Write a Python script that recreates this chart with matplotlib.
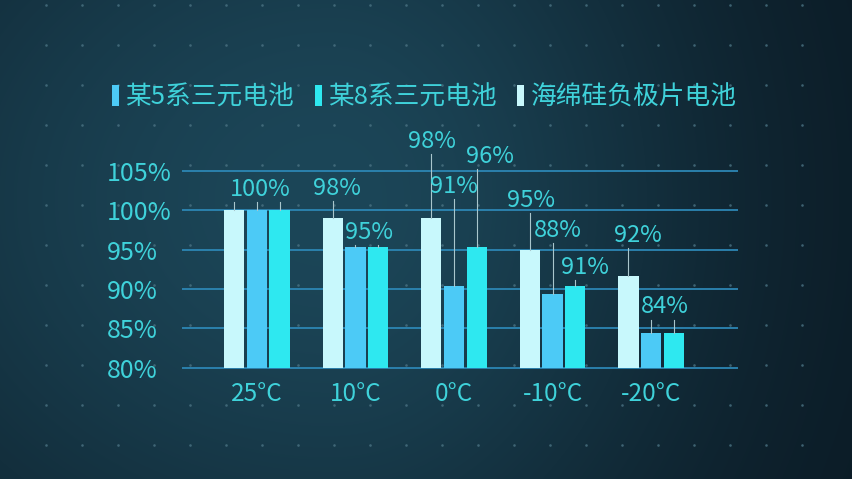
import numpy as np
import matplotlib
matplotlib.use('Agg')
import matplotlib.pyplot as plt
from matplotlib.patches import Rectangle

plt.rcParams['font.family'] = ['Noto Sans CJK SC', 'DejaVu Sans']

# ---------------- data ----------------
categories = ['25°C', '10°C', '0°C', '-10°C', '-20°C']
series_names = ['海绵硅负极片电池', '某5系三元电池', '某8系三元电池']
sponge = [100, 99, 99, 95, 91.6]
ncm5 = [100, 95.3, 90.4, 89.3, 84.4]
ncm8 = [100, 95.3, 95.3, 90.4, 84.4]
legend_order = [1, 2, 0]
yticks = [80, 85, 90, 95, 100, 105]
ytick_labels = ['80%', '85%', '90%', '95%', '100%', '105%']
label_texts = [['100%'], ['98%', '95%'], ['98%', '91%', '96%'],
               ['95%', '88%', '91%'], ['92%', '84%']]

# ---------------- layout / style ----------------
# (x offset in bar slots, text centre y, connected bars)
label_layout = [
    [(0.13, 102.7, (0, 1, 2))],
    [(-0.84, 102.8, (0,)), (0.61, 97.15, (1, 2))],
    [(-0.97, 108.8, (0,)), (0.0, 103.0, (1,)), (1.57, 106.8, (2,))],
    [(-0.95, 101.2, (0,)), (0.24, 97.4, (1,)), (1.45, 92.75, (2,))],
    [(-0.59, 96.8, (0,)), (0.61, 87.7, (1, 2))],
]
colors = ['#c8f8fc', '#4ccaf6', '#2ee8f0']
text_color = '#3fd2da'
grid_color = '#2c86b4'
leader_color = '#a9c6cc'
slot = 0.23
bar_w = 0.206

W, H = 852, 479
fig = plt.figure(figsize=(W / 100, H / 100), dpi=100)

# background gradient with dot grid
bg = fig.add_axes([0, 0, 1, 1], zorder=-10)
xx, yy = np.meshgrid(np.arange(W), np.arange(H))
cx, cy = 330.0, 200.0
sx = np.where(xx < cx, 550.0, 380.0)
f = np.exp(-((xx - cx) / sx) ** 2 - ((yy - cy) / 450.0) ** 2)
light = np.array([28, 70, 88]) / 255.0
dark = np.array([10, 24, 34]) / 255.0
img = dark[None, None, :] + f[..., None] * (light - dark)[None, None, :]
bg.imshow(img, extent=[0, W, H, 0], aspect='auto', interpolation='bilinear')
dx, dy = np.meshgrid(np.arange(46, 810, 36), np.arange(5, 470, 40))
bg.scatter(dx.ravel(), dy.ravel(), s=3.5, color='#4a7282', alpha=0.8, linewidths=0)
bg.set_xlim(0, W)
bg.set_ylim(H, 0)
bg.axis('off')

# main axes
ax = fig.add_axes([182 / W, (H - 367.5) / H, 556 / W, 196.5 / H])
ax.patch.set_alpha(0)
ax.set_xlim(-0.761, 4.883)
ax.set_ylim(80, 105)

x = np.arange(len(categories))
series = [sponge, ncm5, ncm8]
bars = []
for i, (vals, c, name) in enumerate(zip(series, colors, series_names)):
    b = ax.bar(x + (i - 1) * slot, [v - 80 for v in vals], bottom=80, width=bar_w,
               color=c, label=name, zorder=3, linewidth=0)
    bars.append(b)

ax.hlines(yticks, 0, 1, transform=ax.get_yaxis_transform(), colors=grid_color,
          linewidth=1.3, zorder=1, clip_on=False)

# value labels with leader lines
for g, (texts, lay) in enumerate(zip(label_texts, label_layout)):
    for t, (off, yc, conn) in zip(texts, lay):
        ax.text(g + off * slot, yc, t, ha='center', va='center', fontsize=17,
                color=text_color, zorder=5, clip_on=False)
        for b in conn:
            ax.plot([g + (b - 1) * slot] * 2, [series[b][g], yc - 1.6],
                    color=leader_color, linewidth=0.8, zorder=4, clip_on=False)

ax.set_yticks(yticks, ytick_labels)
ax.set_xticks(x, categories)
ax.tick_params(axis='y', length=0, pad=54, labelsize=18, labelcolor=text_color)
ax.tick_params(axis='x', length=0, pad=10, labelsize=17.5, labelcolor=text_color)
for lbl in ax.get_yticklabels():
    lbl.set_horizontalalignment('left')
for s in ax.spines.values():
    s.set_visible(False)

handles = [Rectangle((0, 0), 1, 1, facecolor=colors[i], linewidth=0) for i in legend_order]
labels = [series_names[i] for i in legend_order]
fig.legend(handles, labels, loc='center', bbox_to_anchor=(0.498, 0.797), ncol=3,
           frameon=False, fontsize=18.5, handlelength=0.27, handleheight=0.86,
           handletextpad=0.25, columnspacing=0.8, labelcolor=text_color)

fig.savefig('out.png', dpi=100)
